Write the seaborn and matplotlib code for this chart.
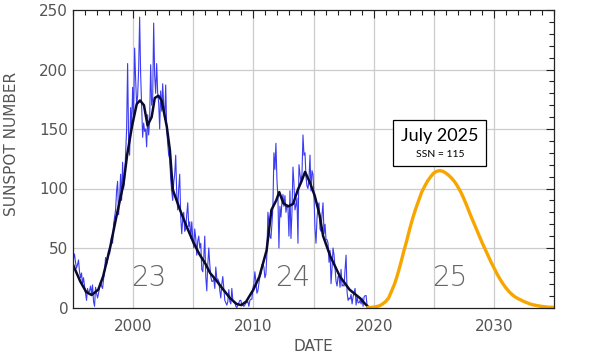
import numpy as np
import pandas as pd
import seaborn as sns
import matplotlib.pyplot as plt
from matplotlib.ticker import MultipleLocator
from matplotlib.offsetbox import TextArea, VPacker, AnnotationBbox

# monthly sunspot number, starting Jan 1995
monthly_start = 1995.0
monthly_ssn = [
    41, 45, 38, 33, 36, 40, 30, 25, 29, 20, 25, 18,          # 1995
    12, 6, 16, 12, 14, 18, 11, 19, 5, 1, 17, 12,             # 1996
    8, 12, 17, 22, 18, 16, 24, 30, 42, 36, 40, 48,           # 1997
    45, 52, 60, 54, 70, 76, 82, 98, 106, 78, 92, 112,        # 1998
    90, 122, 100, 108, 128, 150, 205, 140, 128, 168, 150, 185,  # 1999
    160, 218, 192, 170, 178, 200, 244, 196, 170, 143, 155, 148,  # 2000
    150, 135, 162, 145, 158, 204, 170, 175, 239, 195, 180, 205,  # 2001
    180, 172, 150, 182, 165, 188, 170, 158, 187, 150, 138, 128,  # 2002
    125, 108, 98, 90, 105, 112, 128, 96, 82, 100, 112, 76,   # 2003
    62, 74, 80, 64, 66, 78, 88, 68, 72, 58, 72, 58,          # 2004
    50, 66, 58, 44, 56, 60, 50, 54, 32, 30, 42, 60,          # 2005
    26, 14, 36, 50, 36, 26, 22, 22, 24, 16, 34, 24,          # 2006
    24, 22, 14, 8, 20, 26, 16, 6, 4, 2, 5, 15,               # 2007
    5, 3, 16, 6, 4, 4, 1, 0, 2, 4, 6, 6,                     # 2008
    2, 2, 1, 2, 4, 4, 5, 1, 6, 7, 7, 16,                     # 2009
    20, 30, 22, 12, 14, 20, 26, 28, 36, 36, 34, 25,          # 2010
    28, 45, 80, 72, 60, 58, 70, 85, 130, 116, 138, 108,      # 2011
    92, 50, 85, 76, 88, 95, 85, 94, 80, 86, 84, 60,          # 2012
    98, 58, 80, 118, 104, 82, 86, 92, 54, 120, 112, 106,     # 2013
    112, 145, 128, 130, 110, 102, 100, 108, 128, 98, 115, 112,  # 2014
    93, 66, 54, 75, 85, 88, 66, 64, 78, 88, 62, 70,          # 2015
    57, 57, 54, 38, 48, 20, 33, 50, 44, 33, 22, 18,          # 2016
    26, 26, 17, 32, 18, 19, 18, 32, 44, 13, 6, 8,            # 2017
    7, 11, 3, 9, 13, 16, 2, 9, 4, 4, 6, 3,                   # 2018
    8, 1, 9, 10, 10, 1, 1,                                   # 2019
]

# smoothed sunspot number
smooth_year = [1995.0, 1995.6, 1996.1, 1996.55, 1997.1, 1997.5, 1998.1, 1998.6, 1999.2,
               1999.5, 1999.9, 2000.3, 2000.57, 2000.9, 2001.2, 2001.54, 2001.8, 2002.1,
               2002.37, 2002.8, 2003.06, 2003.3, 2003.9, 2004.45, 2005.0, 2005.5, 2006.0,
               2006.4, 2006.9, 2007.5, 2008.05, 2008.6, 2009.0, 2009.4, 2010.0, 2010.5,
               2011.1, 2011.5, 2011.9, 2012.15, 2012.5, 2012.9, 2013.3, 2013.7, 2014.0,
               2014.3, 2014.7, 2015.1, 2015.5, 2015.8, 2016.4, 2017.2, 2018.0, 2018.85,
               2019.3, 2019.6]
smooth_ssn = [36, 22, 13, 10.5, 15, 26, 51, 76, 104,
              128, 152, 171, 174, 170, 153, 160, 176, 178,
              174, 152, 132, 99, 82, 68, 55, 45, 37,
              29, 23, 15, 8, 3, 2, 5, 15, 26,
              48, 82, 90, 97, 87.5, 85, 87, 99, 106,
              114, 105, 94, 78, 60, 43, 26, 15, 8,
              3, 0]

# cycle 25 prediction (quarterly)
pred_year = [2019.5, 2019.75, 2020.0, 2020.25, 2020.5, 2020.75, 2021.0, 2021.25, 2021.5,
             2021.75, 2022.0, 2022.25, 2022.5, 2022.75, 2023.0, 2023.25, 2023.5, 2023.75,
             2024.0, 2024.25, 2024.5, 2024.75, 2025.0, 2025.25, 2025.5, 2025.75, 2026.0,
             2026.25, 2026.5, 2026.75, 2027.0, 2027.25, 2027.5, 2027.75, 2028.0, 2028.25,
             2028.5, 2028.75, 2029.0, 2029.25, 2029.5, 2029.75, 2030.0, 2030.25, 2030.5,
             2030.75, 2031.0, 2031.25, 2031.5, 2031.75, 2032.0, 2032.25, 2032.5, 2032.75,
             2033.0, 2033.25, 2033.5, 2033.75, 2034.0, 2034.25, 2034.5, 2034.75, 2035.0]
pred_ssn = [0, 0, 0.3, 0.8, 1.5, 3, 5, 8, 14,
            20, 28, 37, 47, 56, 66, 75, 83, 90,
            97, 102, 106.5, 110, 113, 114.5, 115, 114.5, 113,
            111, 108.5, 105.5, 101.5, 97, 91.5, 85.5, 79, 73,
            67, 61, 55, 49.5, 44, 38.5, 33.5, 28.5, 24,
            20, 16.5, 13.5, 11, 9, 7.5, 6.3, 5, 4,
            3, 2.3, 1.8, 1.3, 0.9, 0.6, 0.3, 0.2, 0.1]

cycle_labels = ["23", "24", "25"]
cycle_pos = [2001.3, 2013.3, 2026.3]

monthly = pd.DataFrame({"date": monthly_start + np.arange(len(monthly_ssn)) / 12.0 + 1 / 24.0,
                        "ssn": monthly_ssn})
smooth = pd.DataFrame({"date": smooth_year, "ssn": smooth_ssn})
pred = pd.DataFrame({"date": pred_year, "ssn": pred_ssn})

sns.set_style("white")
plt.rcParams['font.family'] = ['DejaVu Sans']
grey = "#555555"

fig = plt.figure(figsize=(5.97, 3.55), dpi=100)
ax = fig.add_axes([73 / 597, 1 - 307.5 / 355, (554 - 73) / 597, (307.5 - 10) / 355])

sns.lineplot(data=monthly, x="date", y="ssn", ax=ax, color="#3b3bf0", linewidth=0.8, sort=False)
sns.lineplot(data=smooth, x="date", y="ssn", ax=ax, color="#0a0a30", linewidth=1.8, sort=False)
sns.lineplot(data=pred, x="date", y="ssn", ax=ax, color="#f7a600", linewidth=2.4, sort=False)

ax.set_xlim(1995, 2035)
ax.set_ylim(0, 250)
ax.set_xticks([2000, 2010, 2020, 2030])
ax.xaxis.set_minor_locator(MultipleLocator(1))
ax.yaxis.set_major_locator(MultipleLocator(50))
ax.yaxis.set_minor_locator(MultipleLocator(10))
for g in range(2000, 2035, 5):
    ax.axvline(g, color="#cccccc", linewidth=0.9, zorder=0)
for g in range(50, 250, 50):
    ax.axhline(g, color="#cccccc", linewidth=0.9, zorder=0)

ax.tick_params(which="both", direction="in", top=True, right=True, colors="#222222",
               labelcolor=grey, labelsize=11, width=0.8)
ax.tick_params(which="major", length=6)
ax.tick_params(which="minor", length=3.5)
ax.tick_params(axis="x", pad=8)
for s in ax.spines.values():
    s.set_color("#222222")
    s.set_linewidth(0.9)

ax.set_xlabel("DATE", color=grey, fontsize=11)
ax.set_ylabel("SUNSPOT NUMBER", color=grey, fontsize=11)
ax.xaxis.set_label_coords(0.5, -0.105)
ax.yaxis.set_label_coords(-0.112, 0.55)

for lab, xp in zip(cycle_labels, cycle_pos):
    ax.text(xp, 25, lab, ha="center", va="center", fontsize=20, color="#666666",
            fontweight="light")

t1 = TextArea("July 2025", textprops=dict(fontsize=13, color="black", family="Lato"))
t2 = TextArea("SSN = 115", textprops=dict(fontsize=7.5, color="black", family="Lato"))
box = VPacker(children=[t1, t2], align="center", pad=0, sep=4)
ab = AnnotationBbox(box, (2025.5, 138), xycoords="data", frameon=True,
                    bboxprops=dict(edgecolor="black", linewidth=0.9, facecolor="white"),
                    pad=0.55)
ax.add_artist(ab)

fig.savefig("out.png", dpi=100)
